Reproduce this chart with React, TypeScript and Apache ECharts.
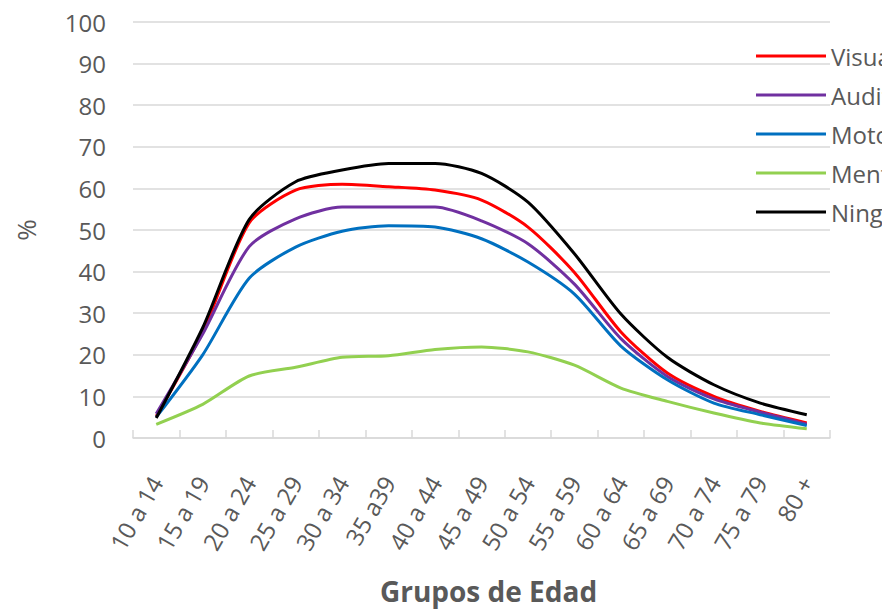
import React, { useEffect, useRef } from "react";
import * as echarts from "echarts";

const categories = ["10 a 14", "15 a 19", "20 a 24", "25 a 29", "30 a 34", "35 a39", "40 a 44", "45 a 49", "50 a 54", "55 a 59", "60 a 64", "65 a 69", "70 a 74", "75 a 79", "80 +"];
const yTicks = [0, 10, 20, 30, 40, 50, 60, 70, 80, 90, 100];
const visual = [5.2, 25.5, 51.7, 59.6, 61.0, 60.4, 59.6, 57.2, 50.7, 39.8, 25.5, 15.6, 10.0, 6.4, 3.6];
const auditiva = [5.8, 25.0, 46.0, 52.7, 55.5, 55.5, 55.5, 52.2, 46.7, 37.0, 23.9, 14.8, 9.4, 6.2, 3.3];
const motora = [5.0, 20.0, 38.4, 45.9, 49.7, 51.0, 50.7, 47.9, 42.3, 34.6, 22.1, 14.0, 8.4, 5.6, 3.0];
const mental = [3.3, 8.1, 14.9, 17.0, 19.4, 19.8, 21.3, 21.9, 20.7, 17.5, 12.0, 8.8, 6.0, 3.6, 2.2];
const ninguna = [4.8, 26.5, 52.5, 61.6, 64.4, 66.0, 66.0, 63.6, 56.7, 44.3, 29.8, 19.4, 12.8, 8.4, 5.6];

const seriesDefs = [
  { name: "Visual", data: visual, color: "#FF0000" },
  { name: "Auditiva", data: auditiva, color: "#7030A0" },
  { name: "Motora", data: motora, color: "#0070C0" },
  { name: "Mental", data: mental, color: "#92D050" },
  { name: "Ninguna", data: ninguna, color: "#000000" },
];

const FONT = "'Open Sans', 'Noto Sans', sans-serif";

export default function App() {
  const ref = useRef<HTMLDivElement>(null);
  useEffect(() => {
    if (!ref.current) return;
    const chart = echarts.init(ref.current, null, { renderer: "svg" });
    chart.setOption({
      animation: false,
      backgroundColor: "#ffffff",
      textStyle: { fontFamily: FONT },
      grid: { left: 133, right: 52, top: 22, bottom: 168, containLabel: false },
      legend: {
        orient: "vertical",
        left: 751,
        top: 39,
        icon: "rect",
        itemWidth: 70,
        itemHeight: 3,
        itemGap: 15,
        textStyle: { fontSize: 24, color: "#595959", fontFamily: FONT, padding: [0, 0, 0, 0] },
        data: seriesDefs.map((s) => s.name),
      },
      xAxis: {
        type: "category",
        data: categories,
        boundaryGap: true,
        name: "Grupos de Edad",
        nameLocation: "middle",
        nameGap: 139,
        nameTextStyle: { fontSize: 28, fontWeight: "bold", color: "#595959", fontFamily: FONT, padding: [0, 0, 0, 14] },
        axisLine: { show: true, lineStyle: { color: "#d9d9d9", width: 1.5 } },
        axisTick: { show: true, inside: true, length: 8, alignWithLabel: false, lineStyle: { color: "#d9d9d9", width: 1.5 } },
        axisLabel: { rotate: 60, margin: 40, fontSize: 24, color: "#595959", fontFamily: FONT, interval: 0 },
        splitLine: { show: false },
      },
      yAxis: {
        type: "value",
        min: yTicks[0],
        max: yTicks[yTicks.length - 1],
        interval: 10,
        name: "%",
        nameLocation: "middle",
        nameRotate: 90,
        nameGap: 94,
        nameTextStyle: { fontSize: 26, color: "#595959", fontFamily: FONT },
        axisLine: { show: false },
        axisTick: { show: false },
        axisLabel: { fontSize: 24, color: "#595959", margin: 27, fontFamily: FONT },
        splitLine: { show: true, lineStyle: { color: "#d9d9d9", width: 1.5 } },
      },
      series: seriesDefs.map((s) => ({
        name: s.name,
        type: "line",
        data: s.data,
        smooth: 0.25,
        symbol: "none",
        showSymbol: false,
        lineStyle: { color: s.color, width: 3 },
        itemStyle: { color: s.color },
      })),
    });
    return () => chart.dispose();
  }, []);
  return <div ref={ref} style={{ position: "fixed", left: 0, top: 0, width: 882, height: 610 }} />;
}
